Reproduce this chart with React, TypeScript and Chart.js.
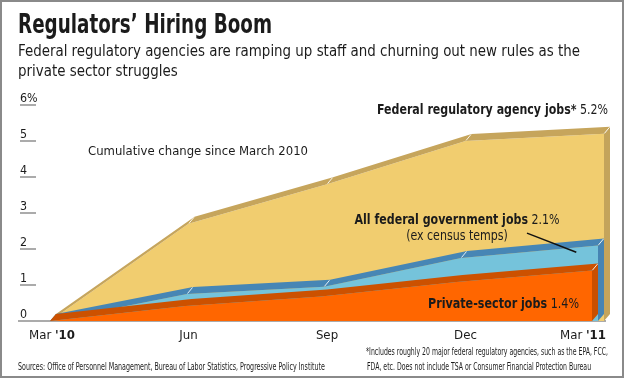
import React, { useEffect, useRef } from 'react';
import { Chart, registerables } from 'chart.js';

Chart.register(...registerables);

// ---------- data ----------
const months = ["Mar '10", 'Jun', 'Sep', 'Dec', "Mar '11"];
const regulatoryJobs = [0, 2.7, 3.8, 5.0, 5.2];
const federalJobs = [0, 0.75, 0.95, 1.75, 2.1];
const privateJobs = [0, 0.42, 0.68, 1.08, 1.4];
const yTickValues = [0, 1, 2, 3, 4, 5, 6];
const yTickLabels = ['0', '1', '2', '3', '4', '5', '6%'];

const COND = '"DejaVu Sans Condensed", "Liberation Sans Narrow", "DejaVu Sans", sans-serif';
const INK = '#1b1b1b';
const DEPTH = { dx: 6, dy: -7 };

type Run = { text: string; bold?: boolean };

function font(size: number, bold?: boolean) {
  return `${bold ? 'bold ' : ''}${size}px ${COND}`;
}
function runsWidth(ctx: CanvasRenderingContext2D, runs: Run[], size: number) {
  let w = 0;
  for (const r of runs) {
    ctx.font = font(size, r.bold);
    w += ctx.measureText(r.text).width;
  }
  return w;
}
function fit(ctx: CanvasRenderingContext2D, runs: Run[], size: number, target: number) {
  return target / runsWidth(ctx, runs, size);
}
function drawRuns(
  ctx: CanvasRenderingContext2D,
  runs: Run[],
  x: number,
  baseline: number,
  size: number,
  align: 'left' | 'right' | 'center',
  sx: number,
  color = INK
) {
  const total = runsWidth(ctx, runs, size) * sx;
  const start = align === 'left' ? x : align === 'right' ? x - total : x - total / 2;
  ctx.save();
  ctx.translate(start, baseline);
  ctx.scale(sx, 1);
  ctx.fillStyle = color;
  ctx.textAlign = 'left';
  ctx.textBaseline = 'alphabetic';
  let cx = 0;
  for (const r of runs) {
    ctx.font = font(size, r.bold);
    ctx.fillText(r.text, cx, 0);
    cx += ctx.measureText(r.text).width;
  }
  ctx.restore();
}
function splitLabel(label: string): Run[] {
  const i = label.indexOf("'");
  if (i < 0) return [{ text: label }];
  return [{ text: label.slice(0, i) }, { text: label.slice(i), bold: true }];
}

const depthPlugin = {
  id: 'depth3d',
  beforeDatasetsDraw(chart: any) {
    const ctx = chart.ctx as CanvasRenderingContext2D;
    const y = chart.scales.y;
    const base = y.getPixelForValue(0);
    ctx.save();
    ctx.strokeStyle = '#ababab';
    ctx.lineWidth = 2;
    ctx.beginPath();
    ctx.moveTo(18, base);
    ctx.lineTo(chart.chartArea.right + 2, base);
    ctx.stroke();
    ctx.restore();
  },
  beforeDatasetDraw(chart: any, args: any) {
    const ctx = chart.ctx as CanvasRenderingContext2D;
    const ds = chart.data.datasets[args.index];
    const pts = args.meta.data.map((p: any) => ({ x: p.x, y: p.y }));
    const base = chart.scales.y.getPixelForValue(0);
    const { dx, dy } = DEPTH;
    ctx.save();
    // top strip
    ctx.fillStyle = ds.depthColor;
    ctx.beginPath();
    pts.forEach((p: any, i: number) => (i ? ctx.lineTo(p.x, p.y) : ctx.moveTo(p.x, p.y)));
    for (let i = pts.length - 1; i >= 0; i--) ctx.lineTo(pts[i].x + dx, pts[i].y + dy);
    ctx.closePath();
    ctx.fill();
    // side face
    const last = pts[pts.length - 1];
    ctx.fillStyle = ds.sideColor;
    ctx.beginPath();
    ctx.moveTo(last.x, last.y);
    ctx.lineTo(last.x + dx, last.y + dy);
    ctx.lineTo(last.x + dx, base + dy);
    ctx.lineTo(last.x, base);
    ctx.closePath();
    ctx.fill();
    // creases
    ctx.strokeStyle = 'rgba(255,255,255,0.85)';
    ctx.lineWidth = 1;
    pts.forEach((p: any, i: number) => {
      if (i === 0) return;
      if (!ds.interiorCreases && i < pts.length - 1) return;
      ctx.beginPath();
      ctx.moveTo(p.x + 0.5, p.y - 0.5);
      ctx.lineTo(p.x + dx - 0.5, p.y + dy + 0.5);
      ctx.stroke();
    });
    ctx.restore();
  },
  afterDraw(chart: any) {
    const ctx = chart.ctx as CanvasRenderingContext2D;
    const x = chart.scales.xY;
    const y = chart.scales.y;

    // y ticks
    ctx.save();
    yTickValues.forEach((v, i) => {
      const py = y.getPixelForValue(v);
      if (v !== 0) {
        ctx.strokeStyle = '#ababab';
        ctx.lineWidth = 2;
        ctx.beginPath();
        ctx.moveTo(20, py);
        ctx.lineTo(36, py);
        ctx.stroke();
      }
      drawRuns(ctx, [{ text: yTickLabels[i] }], 20, py - 3, 13, 'left', 0.95);
    });

    // x tick labels
    const xs = fit(ctx, splitLabel(months[0]), 13, 46);
    months.forEach((m, i) => {
      const px = x.getPixelForValue(i);
      const runs = splitLabel(m);
      if (i === months.length - 1) drawRuns(ctx, runs, px + 2, 339, 13, 'right', xs);
      else if (i === 0) drawRuns(ctx, runs, px + 2, 339, 13, 'center', xs);
      else drawRuns(ctx, runs, px, 339, 13, 'center', xs);
    });

    // title & subtitle
    const titleRuns = [{ text: 'Regulators’ Hiring Boom', bold: true }];
    drawRuns(ctx, titleRuns, 18, 33, 27, 'left', fit(ctx, titleRuns, 27, 254));
    const sub1 = [{ text: 'Federal regulatory agencies are ramping up staff and churning out new rules as the' }];
    const ss = fit(ctx, sub1, 16, 562);
    drawRuns(ctx, sub1, 18, 56, 16, 'left', ss);
    drawRuns(ctx, [{ text: 'private sector struggles' }], 18, 76, 16, 'left', ss);

    // annotation labels
    const cum = [{ text: 'Cumulative change since March 2010' }];
    drawRuns(ctx, cum, 88, 155, 13, 'left', fit(ctx, cum, 13, 220));

    const reg = [{ text: 'Federal regulatory agency jobs*', bold: true }, { text: ' 5.2%' }];
    drawRuns(ctx, reg, 608, 114, 14, 'right', fit(ctx, reg, 14, 231));

    const fed = [{ text: 'All federal government jobs', bold: true }, { text: ' 2.1%' }];
    const fs = fit(ctx, fed, 14, 205);
    drawRuns(ctx, fed, 457, 224, 14, 'center', fs);
    drawRuns(ctx, [{ text: '(ex census temps)' }], 457, 240, 14, 'center', fs);

    const priv = [{ text: 'Private-sector jobs', bold: true }, { text: ' 1.4%' }];
    drawRuns(ctx, priv, 579, 308, 14, 'right', fit(ctx, priv, 14, 151));

    // leader line
    ctx.strokeStyle = '#111';
    ctx.lineWidth = 1.5;
    ctx.beginPath();
    ctx.moveTo(x.getPixelForValue(3.444), y.getPixelForValue(2.44));
    ctx.lineTo(x.getPixelForValue(3.8), y.getPixelForValue(1.91));
    ctx.stroke();

    // footnotes
    const src = [{ text: 'Sources: Office of Personnel Management, Bureau of Labor Statistics, Progressive Policy Institute' }];
    const fns = fit(ctx, src, 10.5, 307);
    drawRuns(ctx, src, 18, 370, 10.5, 'left', fns);
    const fn1 = [{ text: '*Includes roughly 20 major federal regulatory agencies, such as the EPA, FCC,' }];
    const fn1s = fit(ctx, fn1, 10.5, 242);
    drawRuns(ctx, fn1, 366, 355, 10.5, 'left', fn1s);
    drawRuns(ctx, [{ text: 'FDA, etc. Does not include TSA or Consumer Financial Protection Bureau' }], 367, 370, 10.5, 'left', fn1s);

    // frame
    ctx.strokeStyle = '#8a8a8a';
    ctx.lineWidth = 2;
    ctx.strokeRect(1, 1, 622, 376);
    ctx.restore();
  },
};

export default function App() {
  const ref = useRef<HTMLCanvasElement | null>(null);
  useEffect(() => {
    if (!ref.current) return;
    const toPts = (arr: number[]) => arr.map((v, i) => ({ x: i, y: v }));
    const chart = new Chart(ref.current, {
      type: 'line',
      data: {
        datasets: [
          {
            label: 'Private-sector jobs',
            data: toPts(privateJobs),
            xAxisID: 'xO',
            yAxisID: 'y',
            fill: 'origin',
            backgroundColor: '#ff6600',
            borderWidth: 0,
            pointRadius: 0,
            depthColor: '#cc5100',
            sideColor: '#c94f00',
            interiorCreases: false,
          } as any,
          {
            label: 'All federal government jobs',
            data: toPts(federalJobs),
            xAxisID: 'xB',
            yAxisID: 'y',
            fill: 'origin',
            backgroundColor: '#75c3db',
            borderWidth: 0,
            pointRadius: 0,
            depthColor: '#4786b5',
            sideColor: '#4684b3',
            interiorCreases: true,
          } as any,
          {
            label: 'Federal regulatory agency jobs',
            data: toPts(regulatoryJobs),
            xAxisID: 'xY',
            yAxisID: 'y',
            fill: 'origin',
            backgroundColor: '#f1cd6f',
            borderWidth: 0,
            pointRadius: 0,
            depthColor: '#c6a55c',
            sideColor: '#c4a45b',
            interiorCreases: true,
          } as any,
        ],
      },
      options: {
        animation: false,
        responsive: false,
        layout: { padding: { left: 50, right: 21, top: 105, bottom: 58 } },
        plugins: { legend: { display: false }, tooltip: { enabled: false } },
        elements: { line: { tension: 0 } },
        scales: {
          xY: { type: 'linear', display: false, min: 0, max: 4 },
          xB: { type: 'linear', display: false, min: 0, max: (4 * 554) / 548 },
          xO: { type: 'linear', display: false, min: 0, max: (4 * 554) / 542 },
          y: { type: 'linear', display: false, min: 0, max: 6 },
        },
      },
      plugins: [depthPlugin],
    });
    return () => chart.destroy();
  }, []);
  return (
    <div style={{ position: 'fixed', left: 0, top: 0, width: 625, height: 379, background: '#fff' }}>
      <canvas ref={ref} width={625} height={379} style={{ width: 625, height: 379, display: 'block' }} />
    </div>
  );
}
